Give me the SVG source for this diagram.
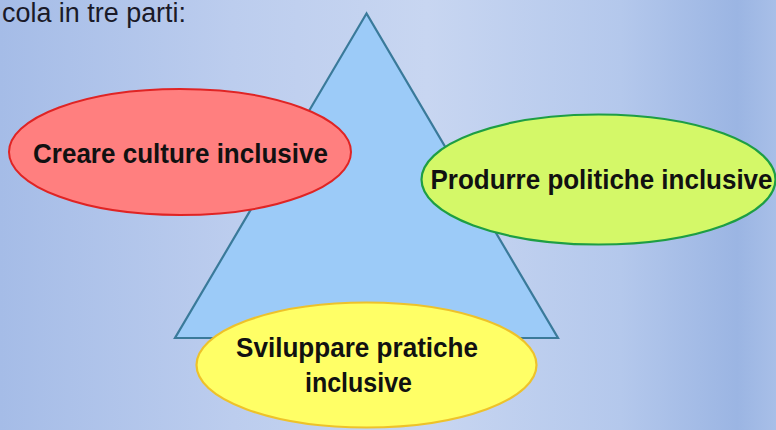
<svg xmlns="http://www.w3.org/2000/svg" width="776" height="430" viewBox="0 0 776 430">
<defs>
<linearGradient id="bg" x1="0" y1="0" x2="1" y2="0">
<stop offset="0" stop-color="#a5bce7"/>
<stop offset="0.3" stop-color="#bccdee"/>
<stop offset="0.55" stop-color="#c8d6f1"/>
<stop offset="0.8" stop-color="#b4c8ec"/>
<stop offset="0.95" stop-color="#9bb5e3"/>
<stop offset="1" stop-color="#a8bfe8"/>
</linearGradient>
</defs>
<style>
.lbl{font-family:"Liberation Sans","DejaVu Sans",sans-serif;font-weight:bold;font-size:28px;fill:#111;text-anchor:middle}
.title{font-family:"Liberation Sans","DejaVu Sans",sans-serif;font-size:27px;fill:#1a1a28}
</style>
<rect width="776" height="430" fill="url(#bg)"/>
<text class="title" x="2" y="22" textLength="184" lengthAdjust="spacingAndGlyphs">cola in tre parti:</text>
<g id="triangle">
<polygon points="366.5,13.5 175,338 558,338" fill="#9ccbf8" stroke="#3a7a9a" stroke-width="2.2" stroke-linejoin="miter"/>
</g>
<g id="culture">
<ellipse cx="180" cy="152" rx="171" ry="63" fill="#ff7f7f" stroke="#e02424" stroke-width="2"/>
<text class="lbl" x="180.5" y="163" textLength="295" lengthAdjust="spacingAndGlyphs">Creare culture inclusive</text>
</g>
<g id="politiche">
<ellipse cx="598.5" cy="179.5" rx="177" ry="65" fill="#d4f868" stroke="#1d9e44" stroke-width="2.2"/>
<text class="lbl" x="601.5" y="189" textLength="342" lengthAdjust="spacingAndGlyphs">Produrre politiche inclusive</text>
</g>
<g id="pratiche">
<ellipse cx="366.5" cy="365" rx="170" ry="62.5" fill="#ffff66" stroke="#eec22a" stroke-width="2.2"/>
<text class="lbl" x="357" y="357" textLength="242" lengthAdjust="spacingAndGlyphs">Sviluppare pratiche</text>
<text class="lbl" x="358.5" y="392" textLength="107" lengthAdjust="spacingAndGlyphs">inclusive</text>
</g>
<g id="connectors"/>
</svg>
